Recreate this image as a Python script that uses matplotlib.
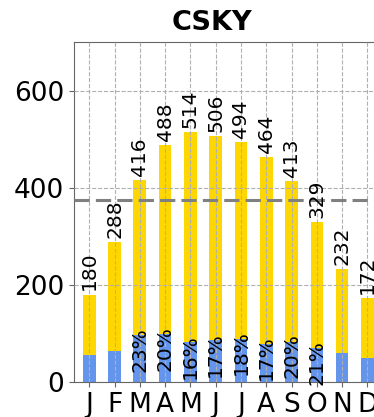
import matplotlib.pyplot as plt
import numpy as np

# Monthly totals and the diffuse part for the CSKY series
months = ['J', 'F', 'M', 'A', 'M', 'J', 'J', 'A', 'S', 'O', 'N', 'D']
total = [180, 288, 416, 488, 514, 506, 494, 464, 413, 329, 232, 172]
diffuse = [55, 64, 96, 98, 82, 86, 89, 79, 83, 69, 60, 49]
share = [None, None, 23, 20, 16, 17, 18, 17, 20, 21, None, None]
mean_level = 375

x = np.arange(len(months))

fig = plt.figure(figsize=(3.74, 4.17), dpi=100)
ax = fig.add_axes([0.198, 0.084, 0.825, 0.815])

ax.bar(x, total, width=0.5, color='#FFD700', zorder=1)
ax.bar(x, diffuse, width=0.5, color='#6495ED', zorder=1)

ax.grid(True, linestyle='--', color='#b0b0b0', lw=0.8, zorder=2)
ax.set_axisbelow(False)

ax.axhline(mean_level, color='#808080', lw=2.2, linestyle=(0, (5, 2)), zorder=3)

for i in range(len(months)):
    ax.annotate(str(total[i]), (x[i], total[i]), xytext=(0, 3), textcoords='offset points',
                rotation=90, ha='center', va='bottom', fontsize=14.5)
    if share[i] is not None:
        ax.annotate('%d%%' % share[i], (x[i], diffuse[i]), xytext=(0, 6), textcoords='offset points',
                    rotation=90, ha='center', va='top', fontsize=14.5)

ax.set_xlim(-0.6, 11.6)
ax.set_ylim(0, 700)
ax.set_yticks([0, 200, 400, 600])
ax.set_xticks(x)
ax.set_xticklabels(months)
ax.tick_params(axis='both', labelsize=19, length=3.5, pad=3.5, color='#666666')
for s in ax.spines.values():
    s.set_color('#666666')

ax.set_title('CSKY', fontsize=19.5, fontweight='bold', x=0.447, pad=9)

fig.savefig('out.png', dpi=100)
